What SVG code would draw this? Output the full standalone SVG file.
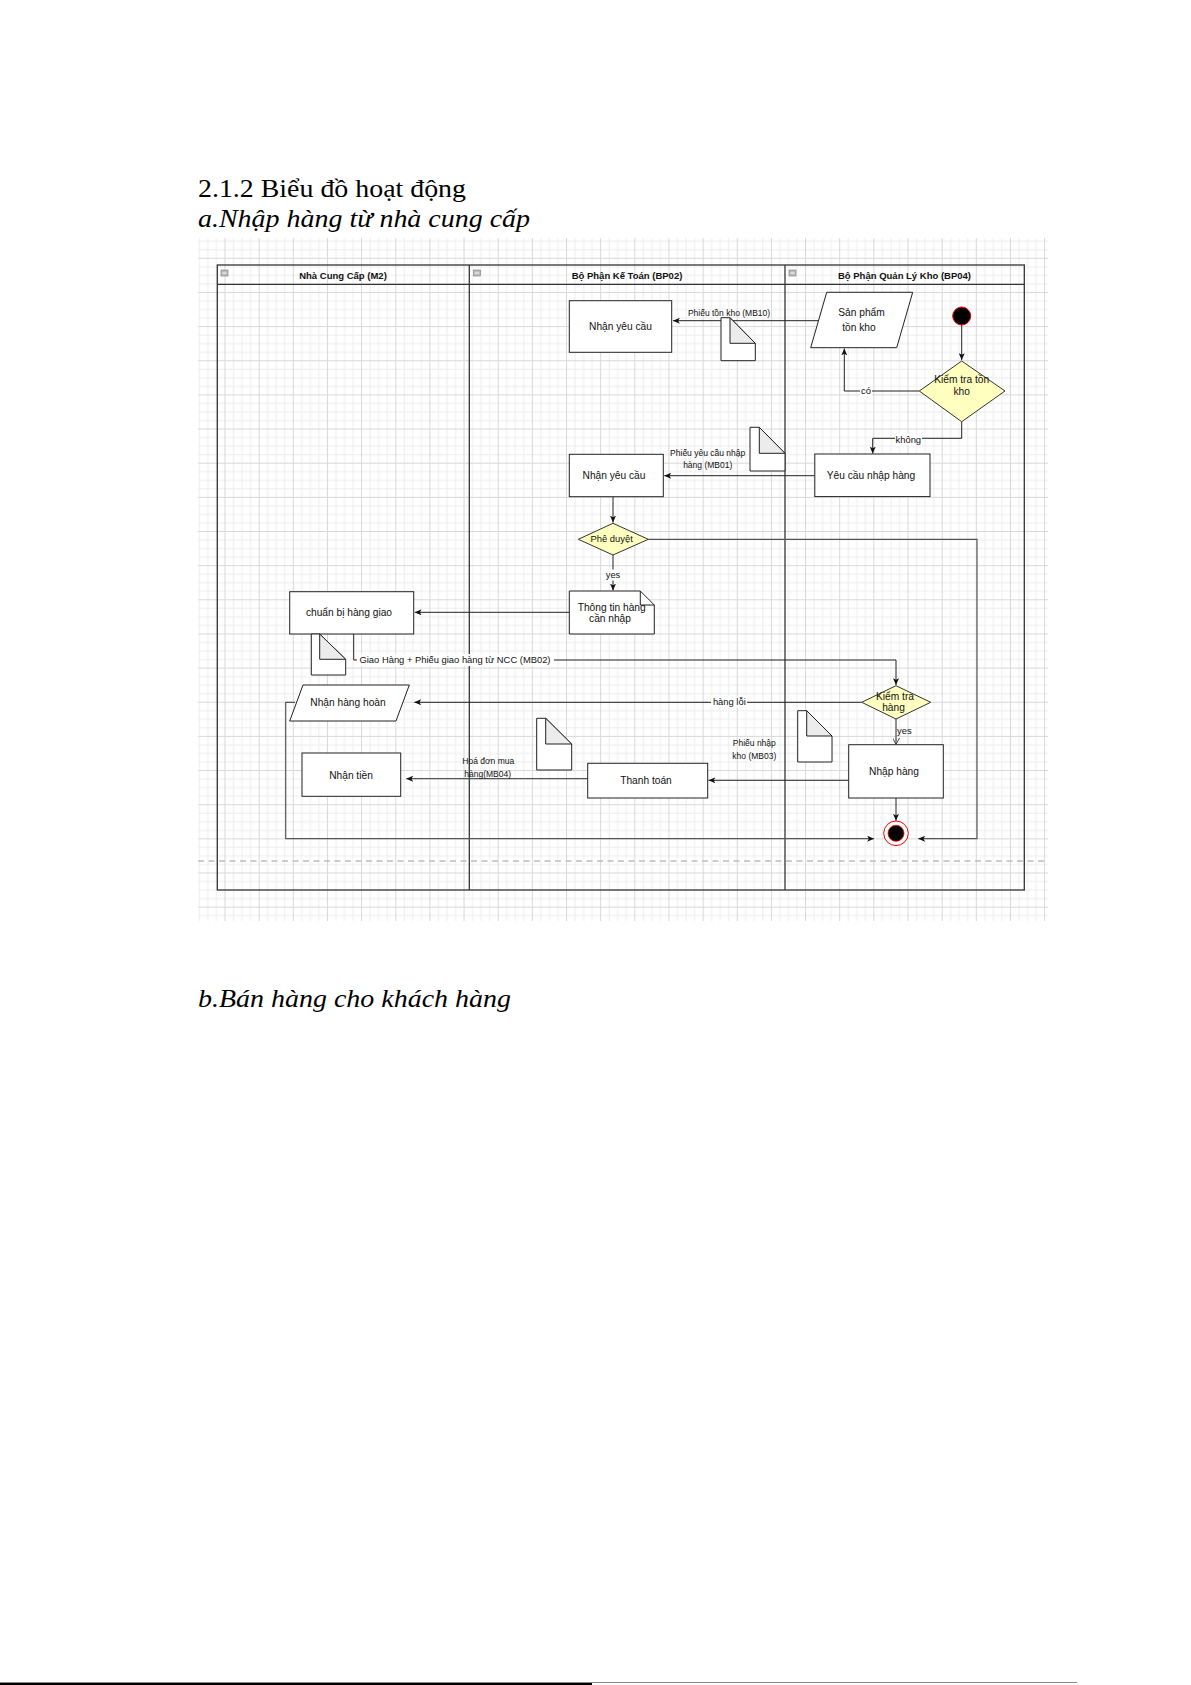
<svg xmlns="http://www.w3.org/2000/svg" width="1191" height="1685" viewBox="0 0 1191 1685">
<style>
.t{font-family:"Liberation Sans",Arial,sans-serif;font-size:10.2px;fill:#111;text-anchor:middle}
.s{font-family:"Liberation Sans",Arial,sans-serif;font-size:8.5px;fill:#111;text-anchor:middle}
.l{font-family:"Liberation Sans",Arial,sans-serif;font-size:9.4px;fill:#111;text-anchor:middle}
.ls{font-family:"Liberation Sans",Arial,sans-serif;font-size:9.4px;fill:#111;text-anchor:start}
.h{font-family:"Liberation Sans",Arial,sans-serif;font-size:9.5px;font-weight:bold;fill:#111;text-anchor:middle}
.hd{font-family:"Liberation Serif","Times New Roman",serif;font-size:26px;fill:#000}
.box{fill:#fff;stroke:#222;stroke-width:1}
.dia{fill:#ffffc0;stroke:#333;stroke-width:1}
.doc{fill:#fff;stroke:#222;stroke-width:1}
.fold{fill:#ececec;stroke:#222;stroke-width:1}
.e{fill:none;stroke:#222;stroke-width:1}
.e2{fill:none;stroke:#555;stroke-width:1.2}
.bg{fill:#fff}
.pool{fill:none;stroke:#333;stroke-width:1.3}
.ic{fill:#bdbdbd;stroke:#7a7a7a;stroke-width:0.6}
</style>
<defs>
<pattern id="grid" patternUnits="userSpaceOnUse" x="224.5" y="257.8" width="34.15" height="34.15">
<rect width="34.15" height="34.15" fill="#fff"/>
<path d="M9.04 0V34.15M17.58 0V34.15M26.11 0V34.15M0 9.04H34.15M0 17.58H34.15M0 26.11H34.15" stroke="#eeeeee" stroke-width="1"/>
<path d="M0.5 0V34.15M0 0.5H34.15" stroke="#d8d8d8" stroke-width="1"/>
</pattern>
<marker id="arr" viewBox="0 0 8 7" refX="8" refY="3.5" markerWidth="7" markerHeight="6" markerUnits="userSpaceOnUse" orient="auto">
<path d="M0,0 L8,3.5 L0,7 L2,3.5 Z" fill="#111"/>
</marker>
<marker id="open" viewBox="0 0 8 8" refX="7.5" refY="4" markerWidth="7" markerHeight="7" markerUnits="userSpaceOnUse" orient="auto">
<path d="M0,0 L7.5,4 L0,8" fill="none" stroke="#333" stroke-width="1"/>
</marker>
</defs>
<rect width="1191" height="1685" fill="#fff"/>

<text class="hd" x="198" y="197" textLength="268" lengthAdjust="spacingAndGlyphs">2.1.2 Biểu đồ hoạt động</text>
<text class="hd" x="198" y="227" font-style="italic" textLength="332" lengthAdjust="spacingAndGlyphs">a.Nhập hàng từ nhà cung cấp</text>
<text class="hd" x="198" y="1007" font-style="italic" textLength="313" lengthAdjust="spacingAndGlyphs">b.Bán hàng cho khách hàng</text>

<rect x="198" y="238" width="850" height="683" fill="url(#grid)"/>
<line x1="198" y1="861" x2="1048" y2="861" stroke="#bdbdbd" stroke-width="1.3" stroke-dasharray="6 4.5"/>

<g id="pool">
<rect class="pool" x="217.3" y="265" width="807" height="625"/>
<line class="pool" x1="217.3" y1="284.3" x2="1024.3" y2="284.3"/>
<line class="pool" x1="469.3" y1="265" x2="469.3" y2="890"/>
<line class="pool" x1="785" y1="265" x2="785" y2="890"/>
<rect class="ic" x="221" y="270" width="7" height="6"/><line x1="222.5" y1="273" x2="226.5" y2="273" stroke="#f4f4f4" stroke-width="1"/>
<rect class="ic" x="473.5" y="270" width="7" height="6"/><line x1="475" y1="273" x2="479" y2="273" stroke="#f4f4f4" stroke-width="1"/>
<rect class="ic" x="789" y="270" width="7" height="6"/><line x1="790.5" y1="273" x2="794.5" y2="273" stroke="#f4f4f4" stroke-width="1"/>
<text class="h" x="343" y="279">Nhà Cung Cấp (M2)</text>
<text class="h" x="627" y="279">Bộ Phận Kế Toán (BP02)</text>
<text class="h" x="904.5" y="279">Bộ Phận Quản Lý Kho (BP04)</text>
</g>

<g id="connectors">
<path class="e" d="M818,320.7 H673" marker-end="url(#arr)"/>
<text class="s" x="729" y="315.5">Phiếu tồn kho (MB10)</text>
<path class="e" d="M961.7,325 V360" marker-end="url(#arr)"/>
<path class="e" d="M919.3,391 H844.3 V348.5" marker-end="url(#arr)"/>
<rect class="bg" x="860" y="385" width="12" height="11"/>
<text class="l" x="866" y="393.6">có</text>
<path class="e" d="M961.7,421.7 V438.3 H872.7 V453.5" marker-end="url(#arr)"/>
<rect class="bg" x="895" y="434" width="27" height="11"/>
<text class="l" x="908.3" y="442.6">không</text>
<path class="e" d="M814.8,475.7 H664.3" marker-end="url(#arr)"/>
<text class="s" x="707.7" y="456.3">Phiếu yêu cầu nhập</text>
<text class="s" x="707.7" y="468">hàng (MB01)</text>
<path class="e" d="M613,496.7 V522.5" marker-end="url(#arr)"/>
<path class="e2" d="M648.3,539.3 H977 V838.7 H918.3" marker-end="url(#arr)"/>
<path class="e" d="M613,555 V590.5" marker-end="url(#arr)"/>
<rect class="bg" x="605" y="569.5" width="16" height="11"/>
<text class="l" x="613" y="578.3">yes</text>
<path class="e" d="M569.3,612.3 H414.7" marker-end="url(#arr)"/>
<path class="e" d="M353.7,634 V660 H896 V685" marker-end="url(#arr)"/>
<rect class="bg" x="357" y="654" width="197" height="12"/>
<text class="l" x="455" y="663.3">Giao Hàng + Phiếu giao hàng từ NCC (MB02)</text>
<path class="e" d="M861.7,702.3 H414.3" marker-end="url(#arr)"/>
<rect class="bg" x="711" y="696" width="36" height="11"/>
<text class="l" x="729.3" y="705">hàng lỗi</text>
<path class="e" d="M896,719 V744.5" marker-end="url(#open)"/>
<text class="ls" x="897" y="734">yes</text>
<path class="e" d="M848.7,780.3 H708.5" marker-end="url(#arr)"/>
<text class="s" x="754.3" y="746.3">Phiếu nhập</text>
<text class="s" x="754.3" y="759">kho (MB03)</text>
<path class="e2" d="M587.7,778.7 H406.3" marker-end="url(#arr)"/>
<text class="s" x="488.3" y="763.7">Hoá đơn mua</text>
<text class="s" x="487.7" y="777.3">hàng(MB04)</text>
<path class="e" d="M896,798 V820.7" marker-end="url(#arr)"/>
<path class="e2" d="M295,702.3 H285.7 V838.7 H874" marker-end="url(#arr)"/>
</g>

<g id="n-nhan-yeu-cau-1">
<rect class="box" x="569.3" y="300.7" width="102.4" height="51.6"/>
<text class="t" x="620.5" y="330">Nhận yêu cầu</text>
</g>
<g id="doc-mb10">
<path class="doc" d="M721,317.7 H730 L755.3,343.3 V360.7 H721 Z"/>
<path class="fold" d="M730,317.7 V343.3 H755.3 Z"/>
</g>
<g id="n-san-pham-ton-kho">
<path class="box" d="M826.7,292.3 H912.7 L896.7,347.7 H810.7 Z"/>
<text class="t" x="861.5" y="315.8">Sản phẩm</text>
<text class="t" x="859" y="331.2">tồn kho</text>
</g>
<g id="start">
<circle cx="961.7" cy="316" r="9" fill="#000" stroke="#e00" stroke-width="1"/>
</g>
<g id="d-kiem-tra-ton-kho">
<path class="dia" d="M919.3,391 L961.7,361 L1005,391 L961.7,421.7 Z"/>
<text class="t" x="961.7" y="382.8">Kiểm tra tồn</text>
<text class="t" x="961.7" y="395.2">kho</text>
</g>
<g id="n-yeu-cau-nhap-hang">
<rect class="box" x="814.8" y="454" width="115.2" height="42.6"/>
<text class="t" x="871" y="479.2">Yêu cầu nhập hàng</text>
</g>
<g id="doc-mb01">
<path class="doc" d="M750,427.3 H759.3 L785,453.3 V471 H750 Z"/>
<path class="fold" d="M759.3,427.3 V453.3 H785 Z"/>
</g>
<g id="n-nhan-yeu-cau-2">
<rect class="box" x="569.3" y="454.3" width="94" height="42.4"/>
<text class="t" x="614" y="479.3">Nhận yêu cầu</text>
</g>
<g id="d-phe-duyet">
<path class="dia" d="M578.3,539.3 L613,523.3 L648.3,539.3 L613,555 Z"/>
<text class="l" x="611.7" y="542">Phê duyệt</text>
</g>
<g id="n-thong-tin-hang">
<path class="box" d="M569.3,591 H640.3 L654.3,605 V634 H569.3 Z"/>
<path class="e" d="M640.3,591 V605 H654.3"/>
<text class="t" x="611.7" y="610.5">Thông tin hàng</text>
<text class="t" x="610" y="622.2">cần nhập</text>
</g>
<g id="n-chuan-bi-hang-giao">
<rect class="box" x="289.7" y="591.7" width="124" height="42.3"/>
<text class="t" x="349" y="616.2">chuẩn bị hàng giao</text>
</g>
<g id="doc-mb02">
<path class="doc" d="M311.3,634 H319.7 L345.7,659.3 V675 H311.3 Z"/>
<path class="fold" d="M319.7,634 V659.3 H345.7 Z"/>
</g>
<g id="d-kiem-tra-hang">
<path class="dia" d="M861.7,702.3 L896,685.7 L930.7,702.3 L896,719 Z"/>
<text class="t" x="895" y="699.5">Kiểm tra</text>
<text class="t" x="893.5" y="711.2">hàng</text>
</g>
<g id="n-nhan-hang-hoan">
<path class="box" d="M303,685 H409.3 L396,721 H289.7 Z"/>
<text class="t" x="348" y="706.2">Nhận hàng hoàn</text>
</g>
<g id="doc-mb03">
<path class="doc" d="M797.7,710.7 H806.7 L832,736 V762 H797.7 Z"/>
<path class="fold" d="M806.7,710.7 V736 H832 Z"/>
</g>
<g id="n-nhap-hang">
<rect class="box" x="848.7" y="744.7" width="94.6" height="53.3"/>
<text class="t" x="894" y="775.2">Nhập hàng</text>
</g>
<g id="n-thanh-toan">
<rect class="box" x="587.7" y="763.3" width="120" height="34.7"/>
<text class="t" x="646" y="784">Thanh toán</text>
</g>
<g id="doc-mb04">
<path class="doc" d="M536.7,718.3 H545.7 L571.7,744 V770 H536.7 Z"/>
<path class="fold" d="M545.7,718.3 V744 H571.7 Z"/>
</g>
<g id="n-nhan-tien">
<rect class="box" x="302" y="753" width="98.7" height="43.3"/>
<text class="t" x="351" y="778.8">Nhận tiền</text>
</g>
<g id="end">
<circle cx="896" cy="833.3" r="12.3" fill="#fff" stroke="#e00" stroke-width="1"/>
<circle cx="896" cy="833.3" r="8" fill="#000" stroke="#e00" stroke-width="0.8"/>
</g>

<rect x="0" y="1682" width="1077" height="1" fill="#8a8a8a"/>
<rect x="0" y="1683" width="592" height="2" fill="#000"/>
</svg>
